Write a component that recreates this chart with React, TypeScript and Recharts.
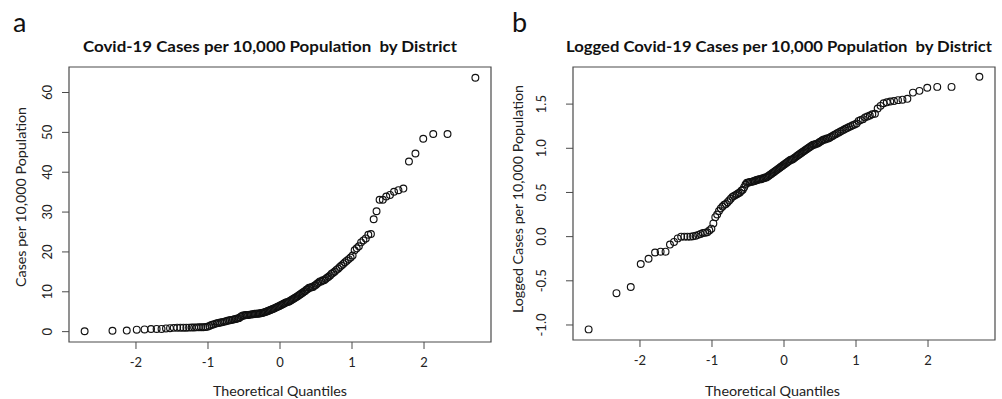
import React from "react";
import { ScatterChart, Scatter, XAxis, YAxis, ReferenceArea } from "recharts";

// sorted district values (cases per 10,000)
const casesPer10k = [
  0.09, 0.23, 0.27, 0.49, 0.56, 0.66, 0.68, 0.68, 0.81, 0.87,
  0.95, 1.0, 1.0, 1.0, 1.0, 1.01, 1.02, 1.05, 1.07, 1.1,
  1.11, 1.12, 1.17, 1.23, 1.41, 1.66, 1.78, 1.95, 2.09, 2.19,
  2.29, 2.34, 2.45, 2.57, 2.69, 2.82, 2.88, 2.95, 3.02, 3.09,
  3.16, 3.31, 3.39, 3.63, 3.89, 4.07, 4.07, 4.17, 4.17, 4.17,
  4.27, 4.27, 4.37, 4.37, 4.47, 4.47, 4.47, 4.57, 4.57, 4.68,
  4.68, 4.79, 4.9, 5.01, 5.13, 5.25, 5.37, 5.5, 5.62, 5.75,
  5.89, 6.03, 6.17, 6.31, 6.46, 6.61, 6.76, 6.92, 7.08, 7.24,
  7.41, 7.41, 7.59, 7.76, 7.94, 8.13, 8.32, 8.51, 8.71, 8.91,
  9.12, 9.33, 9.55, 9.77, 10.0, 10.2, 10.5, 10.7, 11.0, 11.0,
  11.2, 11.2, 11.5, 11.7, 12.0, 12.3, 12.6, 12.6, 12.9, 12.9,
  13.2, 13.5, 13.8, 14.1, 14.5, 14.8, 15.1, 15.5, 15.8, 16.2,
  16.6, 17.0, 17.4, 17.8, 18.2, 18.6, 19.1, 20.4, 20.9, 21.4,
  22.4, 22.9, 23.4, 24.3, 24.5, 28.2, 30.2, 33.1, 33.1, 33.9,
  34.3, 35.1, 35.5, 35.9, 42.7, 44.7, 48.4, 49.6, 49.6, 63.7,
];

// sorted values (log10 scale)
const loggedCases = [
  -1.05, -0.64, -0.57, -0.31, -0.25, -0.18, -0.17, -0.17, -0.09, -0.06,
  -0.02, 0.0, 0.0, 0.0, 0.0, 0.005, 0.01, 0.02, 0.03, 0.04,
  0.045, 0.05, 0.07, 0.09, 0.15, 0.22, 0.25, 0.29, 0.32, 0.34,
  0.36, 0.37, 0.39, 0.41, 0.43, 0.45, 0.46, 0.47, 0.48, 0.49,
  0.5, 0.52, 0.53, 0.56, 0.59, 0.61, 0.61, 0.62, 0.62, 0.62,
  0.63, 0.63, 0.64, 0.64, 0.65, 0.65, 0.65, 0.66, 0.66, 0.67,
  0.67, 0.68, 0.69, 0.7, 0.71, 0.72, 0.73, 0.74, 0.75, 0.76,
  0.77, 0.78, 0.79, 0.8, 0.81, 0.82, 0.83, 0.84, 0.85, 0.86,
  0.87, 0.87, 0.88, 0.89, 0.9, 0.91, 0.92, 0.93, 0.94, 0.95,
  0.96, 0.97, 0.98, 0.99, 1.0, 1.01, 1.02, 1.03, 1.04, 1.04,
  1.05, 1.05, 1.06, 1.07, 1.08, 1.09, 1.1, 1.1, 1.11, 1.11,
  1.12, 1.13, 1.14, 1.15, 1.16, 1.17, 1.18, 1.19, 1.2, 1.21,
  1.22, 1.23, 1.24, 1.25, 1.26, 1.27, 1.28, 1.31, 1.32, 1.33,
  1.35, 1.36, 1.37, 1.385, 1.39, 1.45, 1.48, 1.51, 1.52, 1.53,
  1.535, 1.545, 1.55, 1.56, 1.63, 1.65, 1.685, 1.695, 1.695, 1.81,
];

const quantileTicks = [-2, -1, 0, 1, 2];
const casesTicks = [0, 10, 20, 30, 40, 50, 60];
const loggedTicks = [-1, -0.5, 0, 0.5, 1, 1.5];

const FONT = "Lato, 'Open Sans', sans-serif";
const INK = "#222";
const FRAME = "#4a4a4a";

// inverse normal cdf (Acklam) -> theoretical quantiles, like R's qqnorm
function qnorm(p: number) {
  const a = [-39.6968302866538, 220.946098424521, -275.928510446969, 138.357751867269, -30.6647980661472, 2.50662827745924];
  const b = [-54.4760987982241, 161.585836858041, -155.698979859887, 66.8013118877197, -13.2806815528857];
  const c = [-0.00778489400243029, -0.322396458041136, -2.40075827716184, -2.54973253934373, 4.37466414146497, 2.93816398269878];
  const d = [0.00778469570904146, 0.32246712907004, 2.445134137143, 3.75440866190742];
  const lo = 0.02425;
  if (p < lo) {
    const q = Math.sqrt(-2 * Math.log(p));
    return (((((c[0] * q + c[1]) * q + c[2]) * q + c[3]) * q + c[4]) * q + c[5]) /
      ((((d[0] * q + d[1]) * q + d[2]) * q + d[3]) * q + 1);
  }
  if (p > 1 - lo) {
    const q = Math.sqrt(-2 * Math.log(1 - p));
    return -(((((c[0] * q + c[1]) * q + c[2]) * q + c[3]) * q + c[4]) * q + c[5]) /
      ((((d[0] * q + d[1]) * q + d[2]) * q + d[3]) * q + 1);
  }
  const q = p - 0.5;
  const r = q * q;
  return ((((((a[0] * r + a[1]) * r + a[2]) * r + a[3]) * r + a[4]) * r + a[5]) * q) /
    (((((b[0] * r + b[1]) * r + b[2]) * r + b[3]) * r + b[4]) * r + 1);
}

function qqPoints(values: number[]) {
  const n = values.length;
  const off = n <= 10 ? 3 / 8 : 0.5;
  return [...values]
    .sort((x, y) => x - y)
    .map((v, i) => ({ q: qnorm((i + 1 - off) / (n + 1 - 2 * off)), v }));
}

const OpenCircle = (props: any) => (
  <circle cx={props.cx} cy={props.cy} r={3.4} fill="none" stroke="#111" strokeWidth={1.15} />
);

const makeYTick = (cx: number, fmt: (v: number) => string) => (props: any) => (
  <text
    x={cx}
    y={props.y}
    transform={`rotate(-90, ${cx}, ${props.y})`}
    textAnchor="middle"
    dominantBaseline="central"
    fontFamily={FONT}
    fontSize={13}
    fill={INK}
  >
    {fmt(props.payload.value)}
  </text>
);

type PanelProps = {
  values: number[];
  left: number;
  width: number;
  margin: { top: number; right: number; bottom: number; left: number };
  yDomain: [number, number];
  yTicks: number[];
  tickCx: number;
  fmt: (v: number) => string;
};

const X_DOMAIN: [number, number] = [-2.93, 2.93];

function QQPanel({ values, left, width, margin, yDomain, yTicks, tickCx, fmt }: PanelProps) {
  const data = qqPoints(values);
  return (
    <div style={{ position: "absolute", left, top: 0 }}>
      <ScatterChart width={width} height={399} margin={margin}>
        <XAxis
          type="number"
          dataKey="q"
          domain={X_DOMAIN}
          allowDataOverflow
          ticks={quantileTicks}
          axisLine={false}
          tickSize={7}
          tickMargin={9}
          height={30}
          tickLine={{ stroke: FRAME }}
          tick={{ fontFamily: FONT, fontSize: 13, fill: INK }}
        />
        <YAxis
          type="number"
          dataKey="v"
          domain={yDomain}
          allowDataOverflow
          ticks={yTicks}
          axisLine={false}
          tickSize={7}
          width={60}
          tickLine={{ stroke: FRAME }}
          tick={makeYTick(tickCx, fmt)}
        />
        <ReferenceArea
          x1={X_DOMAIN[0]}
          x2={X_DOMAIN[1]}
          y1={yDomain[0]}
          y2={yDomain[1]}
          fill="none"
          stroke={FRAME}
          strokeWidth={1.2}
          fillOpacity={0}
        />
        <Scatter data={data} shape={OpenCircle} isAnimationActive={false} />
      </ScatterChart>
    </div>
  );
}

const textBase = { fontFamily: FONT, fill: "#111", whiteSpace: "pre" } as const;

export default function App() {
  return (
    <div style={{ position: "absolute", left: 0, top: 0, width: 1002, height: 399, background: "#fff" }}>
      <QQPanel
        values={casesPer10k}
        left={0}
        width={500}
        margin={{ top: 67, right: 9, bottom: 27, left: 9 }}
        yDomain={[-2.6, 66.4]}
        yTicks={casesTicks}
        tickCx={47}
        fmt={(v) => String(v)}
      />
      <QQPanel
        values={loggedCases}
        left={500}
        width={502}
        margin={{ top: 67, right: 7, bottom: 29, left: 13 }}
        yDomain={[-1.17, 1.92]}
        yTicks={loggedTicks}
        tickCx={41}
        fmt={(v) => v.toFixed(1)}
      />
      <svg width={1002} height={399} style={{ position: "absolute", left: 0, top: 0, pointerEvents: "none" }}>
        <text x={13} y={32} fontSize={27} style={textBase}>a</text>
        <text x={512} y={32} fontSize={27} style={textBase}>b</text>
        <text x={270} y={51.5} fontSize={15.5} fontWeight="bold" textAnchor="middle" textLength={374} lengthAdjust="spacingAndGlyphs" style={textBase}>
          Covid-19 Cases per 10,000 Population  by District
        </text>
        <text x={779} y={51.5} fontSize={15.5} fontWeight="bold" textAnchor="middle" textLength={426} lengthAdjust="spacingAndGlyphs" style={textBase}>
          Logged Covid-19 Cases per 10,000 Population  by District
        </text>
        <text x={280} y={396} fontSize={14} textAnchor="middle" textLength={134} lengthAdjust="spacingAndGlyphs" style={{ ...textBase, fill: INK }}>
          Theoretical Quantiles
        </text>
        <text x={772.5} y={396} fontSize={14} textAnchor="middle" textLength={135} lengthAdjust="spacingAndGlyphs" style={{ ...textBase, fill: INK }}>
          Theoretical Quantiles
        </text>
        <text x={25.5} y={197} fontSize={14} textAnchor="middle" transform="rotate(-90, 25.5, 197)" textLength={180} lengthAdjust="spacingAndGlyphs" style={{ ...textBase, fill: INK }}>
          Cases per 10,000 Population
        </text>
        <text x={523} y={199} fontSize={14} textAnchor="middle" transform="rotate(-90, 523, 199)" textLength={228} lengthAdjust="spacingAndGlyphs" style={{ ...textBase, fill: INK }}>
          Logged Cases per 10,000 Population
        </text>
      </svg>
    </div>
  );
}
